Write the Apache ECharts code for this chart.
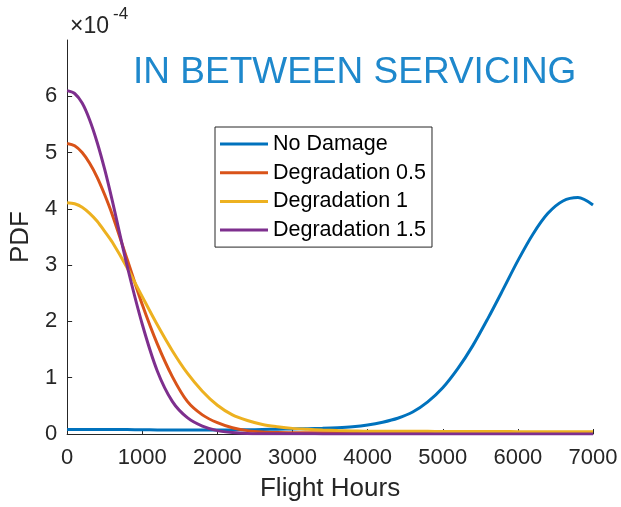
<!DOCTYPE html>
<html>
<head>
<meta charset="utf-8">
<script src="https://cdn.jsdelivr.net/npm/echarts@6/dist/echarts.min.js"></script>
<style>html,body{margin:0;padding:0;background:#fff;}#c{width:621px;height:507px;}</style>
</head>
<body>
<div id="c"></div>
<script>
// Flight hours (x) – sample positions
const hours = [0,100,200,300,400,500,600,800,1000,1200,1400,1600,1800,2000,2200,2400,2600,2800,3000,3200,3400,3600,3800,4000,4200,4400,4600,4800,5000,5200,5400,5600,5800,6000,6200,6400,6600,6800,7000];
// PDF values in units of 1e-4
const noDamage = [0.08,0.08,0.08,0.08,0.08,0.08,0.08,0.078,0.075,0.072,0.07,0.07,0.07,0.07,0.072,0.075,0.08,0.085,0.09,0.095,0.10,0.11,0.128,0.16,0.21,0.28,0.39,0.57,0.82,1.16,1.57,2.05,2.56,3.08,3.55,3.92,4.14,4.20,4.07];
const degr05 = [5.16,5.12,5.00,4.81,4.56,4.25,3.90,3.10,2.30,1.60,1.02,0.58,0.34,0.20,0.11,0.06,0.035,0.025,0.022,0.02,0.02,0.02,0.02,0.02,0.02,0.02,0.02,0.02,0.02,0.02,0.02,0.02,0.02,0.02,0.02,0.02,0.02,0.02,0.02];
const degr10 = [4.11,4.09,4.03,3.92,3.78,3.60,3.41,2.95,2.44,1.94,1.48,1.08,0.76,0.51,0.34,0.24,0.17,0.13,0.10,0.085,0.07,0.06,0.055,0.05,0.05,0.05,0.048,0.047,0.046,0.045,0.045,0.044,0.043,0.042,0.042,0.041,0.04,0.04,0.04];
const degr15 = [6.10,6.05,5.88,5.58,5.18,4.70,4.15,2.98,1.95,1.12,0.58,0.29,0.14,0.06,0.025,0.01,0.005,0.003,0.003,0.003,0.002,0.002,0.002,0.002,0.002,0.002,0.002,0.002,0.002,0.002,0.002,0.002,0.002,0.002,0.002,0.002,0.002,0.002,0.002];
const seriesNames = ['No Damage','Degradation 0.5','Degradation 1','Degradation 1.5'];
const seriesColors = ['#0072BD','#D95319','#EDB120','#7E2F8E'];
const xTicks = [0,1000,2000,3000,4000,5000,6000,7000];
const yTicks = [0,1,2,3,4,5,6];
const titleText = 'IN BETWEEN SERVICING';

const FONT = "'Liberation Sans', Arial, Helvetica, sans-serif";
const TXT = '#262626';
const allData = [noDamage, degr05, degr10, degr15];

const chart = echarts.init(document.getElementById('c'), null, {renderer:'canvas'});
chart.setOption({
  animation: false,
  backgroundColor: '#fff',
  grid: {left: 67, right: 28, top: 40, bottom: 73, containLabel: false},
  xAxis: {
    type: 'value', min: 0, max: 7000, interval: 1000,
    name: 'Flight Hours', nameLocation: 'middle', nameGap: 42,
    nameTextStyle: {fontFamily: FONT, fontSize: 26, color: TXT},
    axisLine: {show: true, lineStyle: {color: TXT, width: 1}},
    axisTick: {show: true, inside: true, length: 5, lineStyle: {color: TXT}, customValues: xTicks},
    axisLabel: {fontFamily: FONT, fontSize: 22, color: TXT, margin: 13, customValues: xTicks, formatter: v => String(v)},
    splitLine: {show: false}
  },
  yAxis: {
    type: 'value', min: 0, max: 7, interval: 1,
    name: 'PDF', nameLocation: 'middle', nameGap: 26, nameRotate: 90,
    nameTextStyle: {fontFamily: FONT, fontSize: 26, color: TXT},
    axisLine: {show: true, lineStyle: {color: TXT, width: 1}},
    axisTick: {show: true, inside: true, length: 5, lineStyle: {color: TXT}, customValues: yTicks},
    axisLabel: {fontFamily: FONT, fontSize: 22, color: TXT, margin: 10, customValues: yTicks, formatter: v => String(v)},
    splitLine: {show: false}
  },
  legend: {
    orient: 'vertical', left: 215, top: 127,
    padding: [6, 6, 6, 5],
    itemWidth: 48, itemHeight: 3, itemGap: 6.7, icon: 'rect',
    borderColor: TXT, borderWidth: 1, backgroundColor: '#fff',
    textStyle: {fontFamily: FONT, fontSize: 21.5, color: '#000', lineHeight: 21},
    data: seriesNames
  },
  graphic: [
    {type: 'text', left: 133, top: 54, style: {text: titleText, fontFamily: FONT, fontSize: 37, fill: '#1E88CC'}},
    {type: 'text', left: 70, top: 15, style: {text: '\u00D710', fontFamily: FONT, fontSize: 23, fill: TXT}},
    {type: 'text', left: 113, top: 6, style: {text: '-4', fontFamily: FONT, fontSize: 17, fill: TXT}}
  ],
  series: seriesNames.map((n, i) => ({
    name: n, type: 'line', smooth: 0.3, showSymbol: false, symbol: 'none',
    lineStyle: {width: 3, color: seriesColors[i]}, itemStyle: {color: seriesColors[i]},
    z: 2 + i,
    data: hours.map((h, k) => [h, allData[i][k]])
  }))
});
</script>
</body>
</html>
